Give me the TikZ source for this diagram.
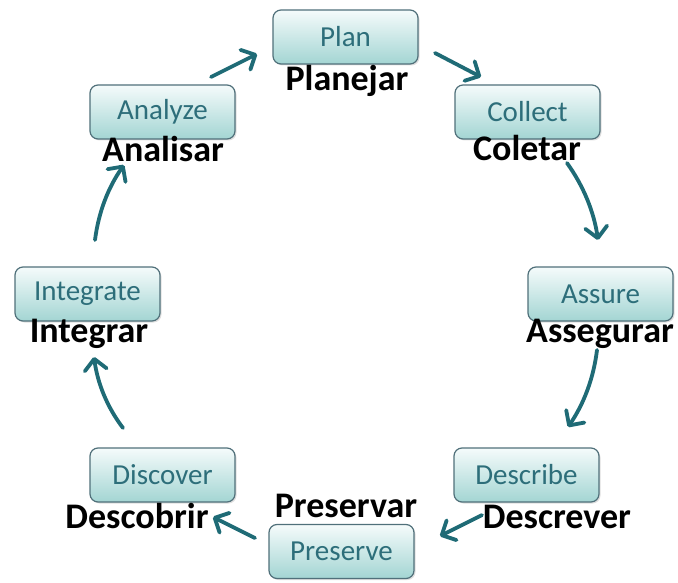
\documentclass[tikz,border=0pt]{standalone}
\usepackage{fontspec}
\setmainfont{Carlito}
\usetikzlibrary{arrows.meta,shadows}
\definecolor{boxtext}{HTML}{2D6E7A}
\definecolor{boxline}{HTML}{50707A}
\definecolor{boxtop}{HTML}{F5FBFB}
\definecolor{boxbot}{HTML}{A3D5D3}
\definecolor{arrowc}{HTML}{1F6B76}
\begin{document}
\begin{tikzpicture}[x=1pt,y=-1pt,
  stage/.style={draw=boxline, line width=1.2pt, rounded corners=8pt,
    minimum width=145pt, minimum height=54pt, inner sep=0pt,
    top color=boxtop, bottom color=boxbot, text=boxtext,
    font=\fontsize{29}{29}\selectfont,
    drop shadow={opacity=0.25, shadow xshift=1.5pt, shadow yshift=-1.5pt}},
  ptlabel/.style={font=\bfseries\fontsize{36}{36}\selectfont, anchor=base, inner sep=0pt, text=black},
  flow/.style={draw=arrowc, line width=3.8pt, line cap=round,
    -{Straight Barb[length=11pt,width=22pt,line cap=round,line join=round]}}]
\useasboundingbox (0,0) rectangle (678,583);

\node[stage] (plan) at (345.5,37) {Plan};
\node[stage] (collect) at (527.5,112) {Collect};
\node[stage] (assure) at (600.5,294) {Assure};
\node[stage] (describe) at (526.5,475) {Describe};
\node[stage] (preserve) at (341.5,551.5) {Preserve};
\node[stage] (discover) at (162.5,475) {Discover};
\node[stage] (integrate) at (87.5,294) {Integrate};
\node[stage] (analyze) at (162.5,112) {Analyze};

\node[ptlabel] (planL) at (347,91) {Planejar};
\node[ptlabel] (collectL) at (527,161) {Coletar};
\node[ptlabel] (assureL) at (600,342) {Assegurar};
\node[ptlabel] (describeL) at (557,528) {Descrever};
\node[ptlabel] (preserveL) at (346,517) {Preservar};
\node[ptlabel] (discoverL) at (137,528) {Descobrir};
\node[ptlabel] (integrateL) at (89,342) {Integrar};
\node[ptlabel] (analyzeL) at (163,162) {Analisar};

\coordinate (a1s) at (435,53);  \coordinate (a1e) at (481,77);
\coordinate (a2s) at (567,163); \coordinate (a2e) at (598,240);
\coordinate (a3s) at (597,350); \coordinate (a3e) at (568,427);
\coordinate (a4s) at (482,515); \coordinate (a4e) at (440,536);
\coordinate (a5s) at (255,538); \coordinate (a5e) at (213,517);
\coordinate (a6s) at (123,428); \coordinate (a6e) at (94,357);
\coordinate (a7s) at (95,240);  \coordinate (a7e) at (124,165);
\coordinate (a8s) at (211,77);  \coordinate (a8e) at (257,54);

\draw[flow] (a1s) -- (a1e);
\draw[flow] (a2s) .. controls (583.5,186) and (594,212) .. (a2e);
\draw[flow] (a3s) .. controls (593.6,378) and (584,403.6) .. (a3e);
\draw[flow] (a4s) -- (a4e);
\draw[flow] (a5s) -- (a5e);
\draw[flow] (a6s) .. controls (107,407) and (97.5,383) .. (a6e);
\draw[flow] (a7s) .. controls (98.5,212.6) and (108,187.6) .. (a7e);
\draw[flow] (a8s) -- (a8e);
\end{tikzpicture}
\end{document}
